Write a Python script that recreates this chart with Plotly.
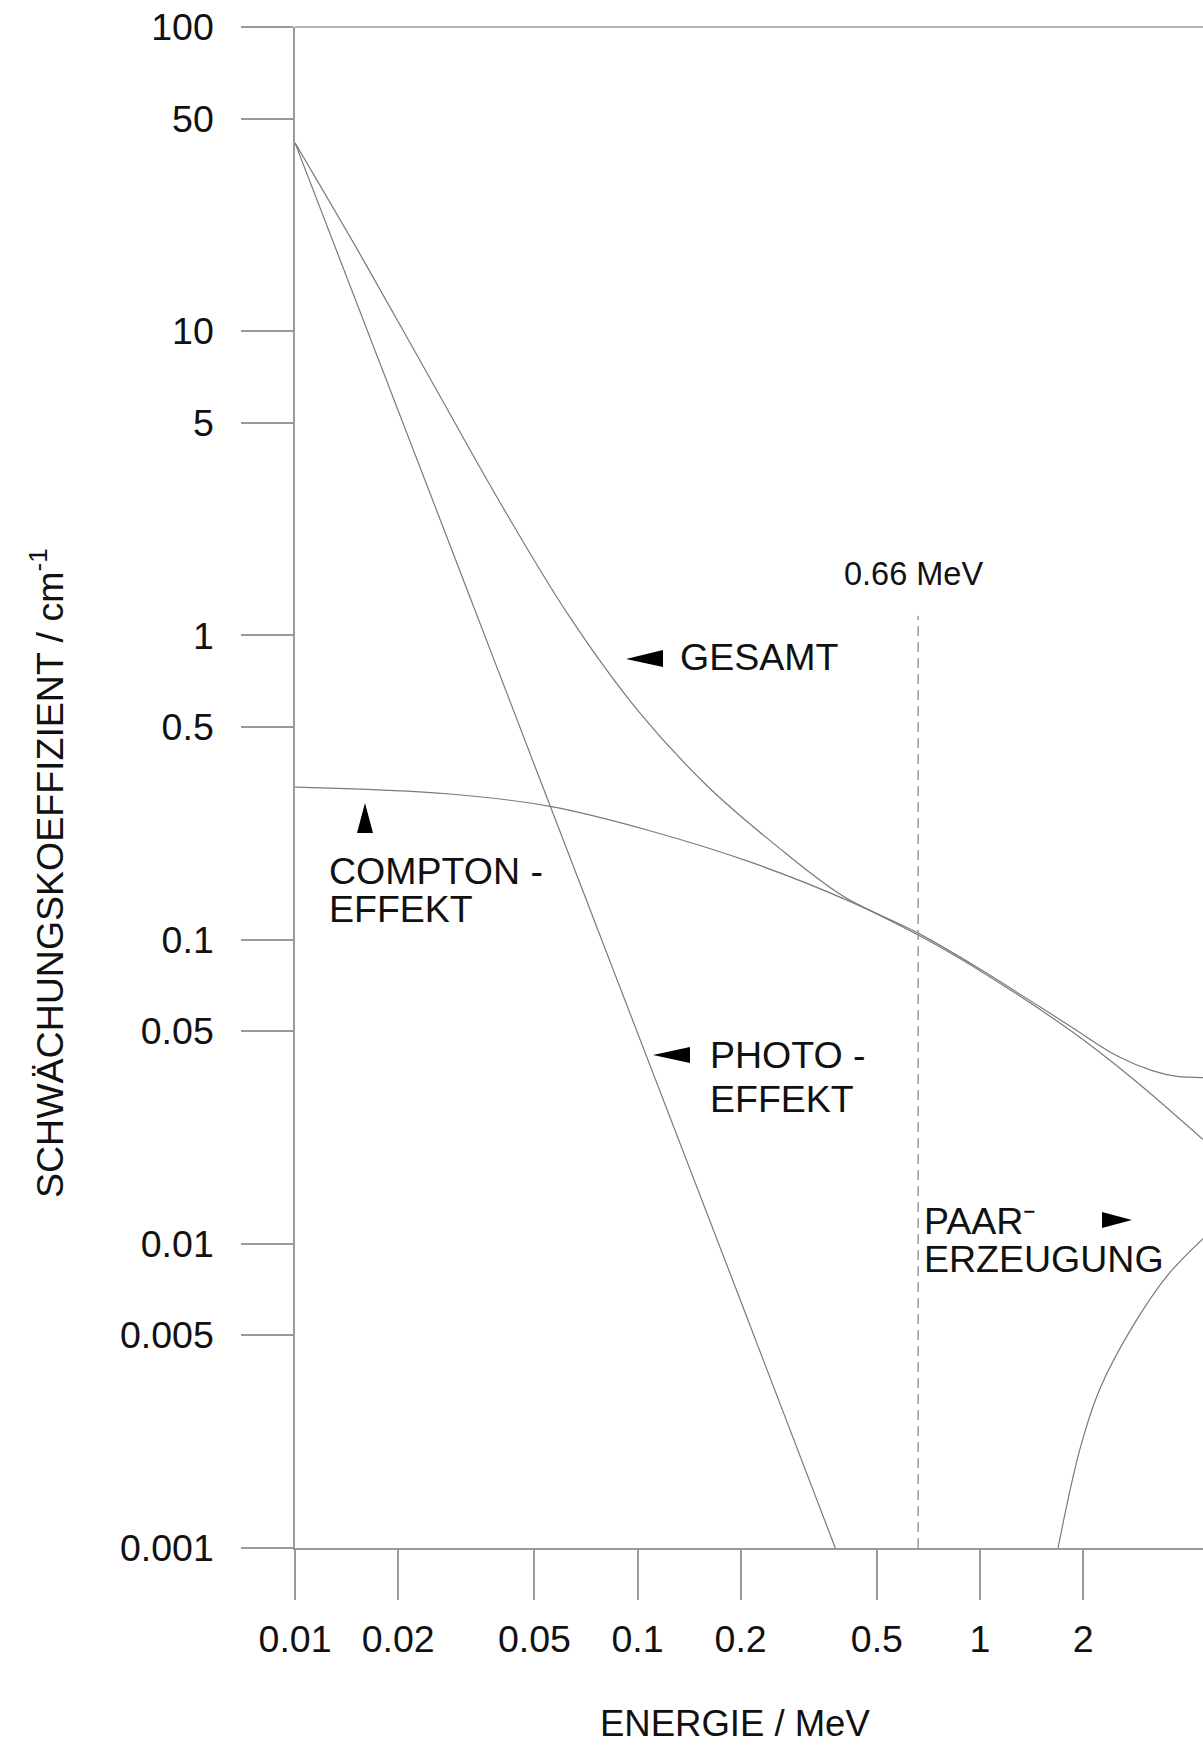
import math
import plotly.graph_objects as go

# ---- data ----
photo_E = [0.01, 0.0166, 0.0287, 0.05, 0.1, 0.2, 0.378]
photo_V = [41.6, 9.5, 1.91, 0.375, 0.0497, 0.0065, 0.001]

compton_E = [0.01, 0.0284, 0.0556, 0.1086, 0.213, 0.42, 0.66, 1.0, 1.83, 2.8, 4.48]
compton_V = [0.317, 0.301, 0.274, 0.228, 0.180, 0.133, 0.1035, 0.079, 0.0504, 0.0348, 0.0220]

gesamt_E = [0.01, 0.01585, 0.0251, 0.0398, 0.0631, 0.1, 0.1585, 0.251, 0.398, 0.66,
            1.0, 1.83, 2.51, 3.2, 3.76, 4.48]
gesamt_V = [41.6, 17.1, 6.82, 2.72, 1.159, 0.568, 0.323, 0.206, 0.139, 0.105,
            0.080, 0.052, 0.0415, 0.0370, 0.0355, 0.0352]

pair_E = [1.69, 1.96, 2.24, 2.80, 3.52, 4.48]
pair_V = [0.001, 0.00212, 0.00334, 0.00538, 0.00785, 0.0104]

marker_E = [0.66, 0.66]
marker_V = [0.001, 1.16]

x_tickvals = [0.01, 0.02, 0.05, 0.1, 0.2, 0.5, 1, 2]
x_ticktext = ["0.01", "0.02", "0.05", "0.1", "0.2", "0.5", "1", "2"]
y_tickvals = [100, 50, 10, 5, 1, 0.5, 0.1, 0.05, 0.01, 0.005, 0.001]
y_ticktext = ["100", "50", "10", "5", "1", "0.5", "0.1", "0.05", "0.01", "0.005", "0.001"]

# ---- layout geometry ----
W, H = 1203, 1746
L, R, T, B = 295, 1203, 27, 1548
FONT = "Liberation Sans, Arial, Helvetica, sans-serif"
CURVE = "#7a7a7a"
AXIS = "#9a9a9a"
FS = 37.5


def pp(x, y):
    return (x - L) / (R - L), (B - y) / (B - T)


fig = go.Figure()
for xs, ys, shape in [(photo_E, photo_V, "linear"), (compton_E, compton_V, "spline"),
                      (gesamt_E, gesamt_V, "spline"), (pair_E, pair_V, "spline")]:
    fig.add_trace(go.Scatter(x=xs, y=ys, mode="lines", line=dict(color=CURVE, width=1.2, shape=shape),
                             showlegend=False, hoverinfo="skip"))
fig.add_trace(go.Scatter(x=marker_E, y=marker_V, mode="lines",
                         line=dict(color=AXIS, width=1.5, dash="10px,6px"),
                         showlegend=False, hoverinfo="skip"))

annos = []


def txt(text, x, y, size=FS, xanchor="left", angle=0):
    px, py = pp(x, y)
    annos.append(dict(text=text, x=px, y=py, xref="paper", yref="paper", showarrow=False,
                      xanchor=xanchor, yanchor="middle", textangle=angle,
                      font=dict(family=FONT, size=size, color="#111")))


txt("GESAMT", 678, 657)
txt("COMPTON -", 327, 871)
txt("EFFEKT", 327, 909)
txt("PHOTO -", 708, 1055)
txt("EFFEKT", 708, 1099)
txt("PAAR⁻", 922, 1221)
txt("ERZEUGUNG", 922, 1259)
txt("0.66 MeV", 913, 574, size=32.5, xanchor="center")
txt("ENERGIE / MeV", 735, 1723, size=36.5, xanchor="center")
txt("SCHWÄCHUNGSKOEFFIZIENT / cm<sup>-1</sup>", 47, 873, size=37.5, xanchor="center", angle=-90)

shapes = []
for tri in [((626, 659), (663, 650), (663, 667)),
            ((365, 803), (357, 833), (373, 833)),
            ((653, 1055), (690, 1047), (690, 1063)),
            ((1132, 1220), (1102, 1212), (1102, 1228))]:
    pts = [pp(*p) for p in tri]
    path = "M {:.5f},{:.5f} L {:.5f},{:.5f} L {:.5f},{:.5f} Z".format(*pts[0], *pts[1], *pts[2])
    shapes.append(dict(type="path", xref="paper", yref="paper", path=path,
                       fillcolor="black", line=dict(width=0)))
shapes.append(dict(type="line", xref="paper", yref="paper", x0=0, x1=1, y0=1, y1=1,
                   line=dict(color=AXIS, width=1.5)))

fig.update_layout(
    width=W, height=H,
    margin=dict(l=L, r=W - R, t=T, b=H - B, pad=0),
    paper_bgcolor="white", plot_bgcolor="white",
    annotations=annos, shapes=shapes,
    font=dict(family=FONT, size=FS, color="#111"),
    xaxis=dict(type="log", range=[-2.0001, math.log10(4.48)], showgrid=False, zeroline=False,
               showline=True, linecolor=AXIS, linewidth=1.5,
               ticks="outside", ticklen=50, tickwidth=1.5, tickcolor=AXIS,
               tickvals=x_tickvals, ticktext=x_ticktext, ticklabelstandoff=7,
               tickfont=dict(family=FONT, size=FS, color="#111")),
    yaxis=dict(type="log", range=[-3.0001, 2.0001], showgrid=False, zeroline=False,
               showline=True, linecolor=AXIS, linewidth=1.5,
               ticks="outside", ticklen=52, tickwidth=1.5, tickcolor=AXIS,
               tickvals=y_tickvals, ticktext=y_ticktext, ticklabelstandoff=20,
               tickfont=dict(family=FONT, size=FS, color="#111")),
)

fig.write_html("out.html", config={"displayModeBar": False},
               post_script="document.body.style.margin='0';document.body.style.overflow='hidden';")
